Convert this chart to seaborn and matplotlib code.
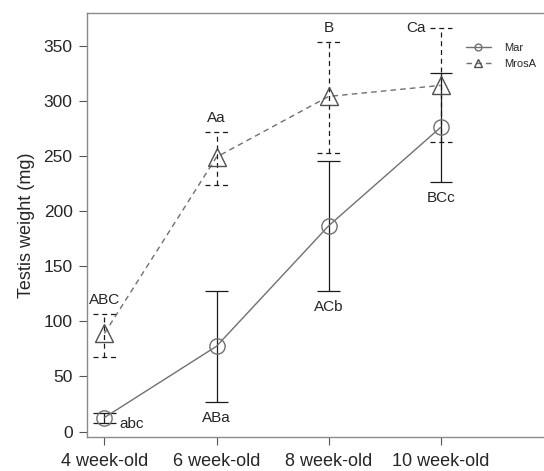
import numpy as np
import pandas as pd
import seaborn as sns
import matplotlib
matplotlib.use("Agg")
import matplotlib.pyplot as plt

# values
groups = ["4 week-old", "6 week-old", "8 week-old", "10 week-old"]
mar_mean = [12.7, 77.4, 186.6, 276.0]
mar_lo = [8.2, 26.9, 127.6, 226.6]
mar_hi = [17.2, 127.6, 245.6, 325.5]
mros_mean = [89.0, 249.0, 304.0, 314.0]
mros_lo = [67.7, 223.6, 253.0, 262.7]
mros_hi = [107.0, 272.0, 353.0, 365.8]
mar_letters = ["abc", "ABa", "ACb", "BCc"]
mros_letters = ["ABC", "Aa", "B", "Ca"]

sns.set_style("ticks")
plt.rcParams['font.family'] = ['Liberation Sans', 'DejaVu Sans']

x = np.arange(len(groups))
df = pd.DataFrame({
    "x": np.concatenate([x, x]),
    "weight": mar_mean + mros_mean,
    "group": ["Mar"] * 4 + ["MrosA"] * 4,
})

fig = plt.figure(figsize=(5.44, 4.71), dpi=100)
# frame runs past the right edge of the picture, as in the original
ax = fig.add_axes([86.5 / 544, 33.7 / 471, 463.5 / 544, 424 / 471])

line_grey = "#707070"
xx = np.concatenate([x, x])

# error bars
mar_err = [np.array(mar_mean) - np.array(mar_lo), np.array(mar_hi) - np.array(mar_mean)]
ax.errorbar(x, mar_mean, yerr=mar_err, fmt="none", ecolor="#1a1a1a",
            elinewidth=0.9, capsize=0)
ax.hlines(mar_lo + mar_hi, xx - 0.1, xx + 0.1, color="#1a1a1a", lw=0.9)
ax.vlines(x, mros_lo, mros_hi, color="#1a1a1a", lw=0.9, linestyles=(0, (4, 3)))
ax.hlines(mros_lo + mros_hi, xx - 0.1, xx + 0.1,
          color="#1a1a1a", lw=0.9, linestyles=(0, (4, 3)))

# mean lines
sns.lineplot(data=df[df.group == "Mar"], x="x", y="weight", ax=ax, color=line_grey,
             lw=1.0, marker="o", markersize=11, markerfacecolor="none",
             markeredgecolor=line_grey, markeredgewidth=1.0, label="Mar")
sns.lineplot(data=df[df.group == "MrosA"], x="x", y="weight", ax=ax, color=line_grey,
             lw=1.0, linestyle=(0, (4, 3)), marker="^", markersize=13,
             markerfacecolor="none", markeredgecolor="#505050", markeredgewidth=1.0,
             label="MrosA")

# significance letters
fs = 11
for i in range(4):
    if i == 0:
        ax.annotate(mar_letters[i], (x[i], mar_mean[i]), xytext=(15, -6),
                    textcoords="offset pixels", ha="left", va="center", fontsize=fs)
    else:
        ax.annotate(mar_letters[i], (x[i], mar_lo[i]), xytext=(0, -9),
                    textcoords="offset pixels", ha="center", va="top", fontsize=fs)
    if i == 3:
        ax.annotate(mros_letters[i], (x[i], mros_hi[i]), xytext=(-15, 0),
                    textcoords="offset pixels", ha="right", va="center", fontsize=fs)
    else:
        ax.annotate(mros_letters[i], (x[i], mros_hi[i]), xytext=(0, 7),
                    textcoords="offset pixels", ha="center", va="bottom", fontsize=fs)

ax.set_xlim(-0.16, 3.975)
ax.set_ylim(-5.2, 379.4)
ax.set_xticks(x)
ax.set_xticklabels(groups, fontsize=13)
ax.set_yticks(np.arange(0, 351, 50))
ax.tick_params(axis="y", labelsize=12.5, length=6, color="#555555", pad=4)
ax.tick_params(axis="x", length=6, color="#555555", pad=5)
ax.set_xlabel("")
ax.set_ylabel("Testis weight (mg)", fontsize=13, labelpad=6)
for s in ax.spines.values():
    s.set_color("#8a8a8a")
    s.set_linewidth(1.0)

leg = ax.legend(loc="upper left", bbox_to_anchor=(0.819, 0.93), frameon=False,
                fontsize=8, handlelength=2.2, handletextpad=1.2,
                labelspacing=0.5, markerscale=0.45, borderaxespad=0, borderpad=0)

fig.savefig("out.png", dpi=100)
